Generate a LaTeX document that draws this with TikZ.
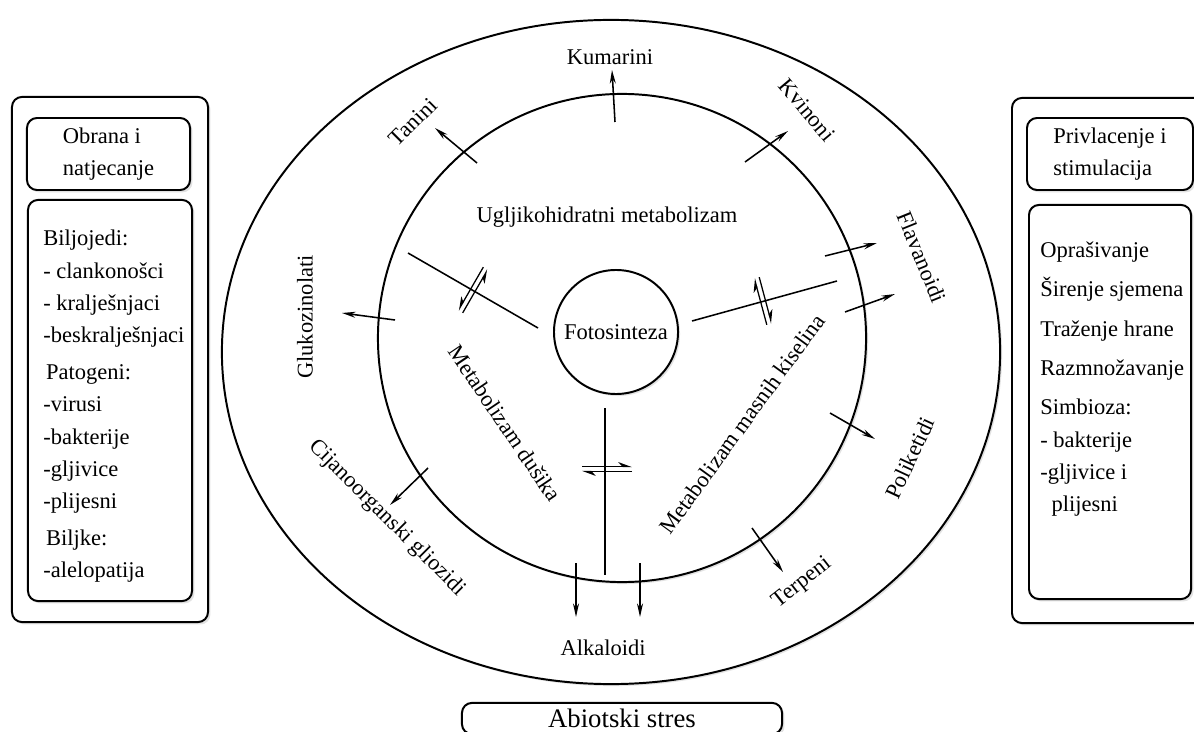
\documentclass[tikz,border=0pt]{standalone}
\usepackage{fontspec}
\setmainfont{Liberation Serif}
\usetikzlibrary{shapes.geometric, arrows.meta, shadows}

\begin{document}
\begin{tikzpicture}[
    x=0.025cm, y=0.025cm,
    every node/.style={font=\fontsize{16}{19}\selectfont},
    ring/.style={draw, line width=1.4pt, fill=white, inner sep=0pt,
                 drop shadow={shadow xshift=0.05cm, shadow yshift=-0.05cm, fill=gray!45}},
    panel/.style={rectangle, draw, line width=1.4pt, rounded corners=0.25cm, fill=white,
                  drop shadow={shadow xshift=0.06cm, shadow yshift=-0.06cm, fill=gray!45}},
    sidetext/.style={align=left, inner sep=0pt, font=\fontsize{16}{23}\selectfont},
    headtext/.style={align=left, font=\fontsize{16}{22.7}\selectfont},
    arr/.style={-{Stealth[length=0.34cm, width=0.15cm]}, line width=1.1pt},
    link/.style={line width=1.1pt},
    eqL/.style={-{Stealth[left, length=0.3cm, width=0.22cm]}, line width=0.9pt},
    eqR/.style={-{Stealth[right, length=0.3cm, width=0.22cm]}, line width=0.9pt}
]
\useasboundingbox (0,0) rectangle (1194,731);
\clip (0,0) rectangle (1194,731);

% side panels
\node[panel, minimum width=4.9cm, minimum height=13.125cm] (defence) at (110,371.5) {};
\node[panel, headtext, minimum width=4.075cm, minimum height=1.8cm] (defhead) at (108.5,577) {Obrana i\\natjecanje};
\node[panel, minimum width=4.1cm, minimum height=10.025cm] (defbox) at (110,330.5) {};
\node[sidetext, anchor=north west] (deflist) at (43,501)
    {Biljojedi:\\- clankonošci\\- kralješnjaci\\-beskralješnjaci\\[3pt]\hspace{2pt}Patogeni:\\-virusi\\-bakterije\\-gljivice\\-plijesni\\[3pt]\hspace{2pt}Biljke:\\-alelopatija};

\node[panel, minimum width=4.825cm, minimum height=13.125cm] (attract) at (1108.5,370.5) {};
\node[panel, headtext, minimum width=4.15cm, minimum height=1.8cm] (atthead) at (1110,577) {Privlacenje i\\stimulacija};
\node[panel, minimum width=4.05cm, minimum height=9.85cm] (attbox) at (1110,329) {};
\node[sidetext, anchor=north west] (attlist) at (1040,489.5)
    {Oprašivanje\\[5pt]Širenje sjemena\\[5pt]Traženje hrane\\[5pt]Razmnožavanje\\[5pt]Simbioza:\\- bakterije\\-gljivice i\\\hspace{8pt}plijesni};

\node[panel, minimum width=8cm, minimum height=0.78cm, font=\fontsize{19}{23}\selectfont] (abiotic) at (622,12.5) {Abiotski stres};

% rings
\node[ring, ellipse, minimum width=19.45cm, minimum height=16.6cm] (outer) at (611,379) {};
\node[ring, circle, minimum size=12.2cm] (inner) at (622,393) {};
\node[ring, circle, minimum size=3.1cm] (foto) at (616,399) {Fotosinteza};

% ends of the lines
\coordinate (nwA) at (538,403);  \coordinate (nwB) at (408,478);
\coordinate (eA) at (692,410);   \coordinate (eB) at (837,450);
\coordinate (sA) at (605,323);   \coordinate (sB) at (605,156);

\coordinate (kumA) at (615,609); \coordinate (kumB) at (612,661);
\coordinate (tanA) at (477,568); \coordinate (tanB) at (435,603);
\coordinate (kviA) at (745,569); \coordinate (kviB) at (788,600);
\coordinate (flaA) at (825,475); \coordinate (flaB) at (877,488);
\coordinate (flbA) at (845,419); \coordinate (flbB) at (895,437);
\coordinate (polA) at (830,318); \coordinate (polB) at (875,292);
\coordinate (terA) at (752,203); \coordinate (terB) at (783,159);
\coordinate (alaA) at (576,168); \coordinate (alaB) at (576,114);
\coordinate (albA) at (640,168); \coordinate (albB) at (640,114);
\coordinate (cijA) at (428,263); \coordinate (cijB) at (390,226);
\coordinate (gluA) at (395,411); \coordinate (gluB) at (342,418);

\draw[link] (nwA) -- (nwB);
\draw[link] (eA) -- (eB);
\draw[link] (sA) -- (sB);

\draw[arr] (kumA) -- (kumB);
\draw[arr] (tanA) -- (tanB);
\draw[arr] (kviA) -- (kviB);
\draw[arr] (flaA) -- (flaB);
\draw[arr] (flbA) -- (flbB);
\draw[arr] (polA) -- (polB);
\draw[arr] (terA) -- (terB);
\draw[arr] (alaA) -- (alaB);
\draw[arr] (albA) -- (albB);
\draw[arr] (cijA) -- (cijB);
\draw[arr] (gluA) -- (gluB);

% equilibrium signs
\begin{scope}[shift={(473,441)}, rotate=60]
\draw[eqR] (-25,-2.5) -- (25,-2.5);
\draw[eqR] (25,2.5) -- (-25,2.5);
\end{scope}
\begin{scope}[shift={(763,430)}, rotate=105]
\draw[eqL] (-24,2.5) -- (24,2.5);
\draw[eqL] (24,-2.5) -- (-24,-2.5);
\end{scope}
\begin{scope}[shift={(607,262)}]
\draw[eqL] (-25,2.5) -- (25,2.5);
\draw[eqL] (25,-2.5) -- (-25,-2.5);
\end{scope}

% labels
\node (kumarini) at (610,674) {Kumarini};
\node[rotate=45] (tanini) at (413,609) {Tanini};
\node[rotate=-50] (kvinoni) at (807,621) {Kvinoni};
\node (ugljik) at (607,514) {Ugljikohidratni metabolizam};
\node[rotate=-68] (flav) at (922,474) {Flavanoidi};
\node[rotate=65] (polik) at (910,273) {Poliketidi};
\node[rotate=38] (terpeni) at (802,148) {Terpeni};
\node (alkaloidi) at (603,83) {Alkaloidi};
\node[rotate=-45] (cijano) at (387,213) {Cijanoorganski gliozidi};
\node[rotate=90] (gluko) at (305,414) {Glukozinolati};
\node[rotate=-56] (dusik) at (505,308) {Metabolizam dušika};
\node[rotate=54] (masne) at (742,307) {Metabolizam masnih kiselina};
\end{tikzpicture}
\end{document}
